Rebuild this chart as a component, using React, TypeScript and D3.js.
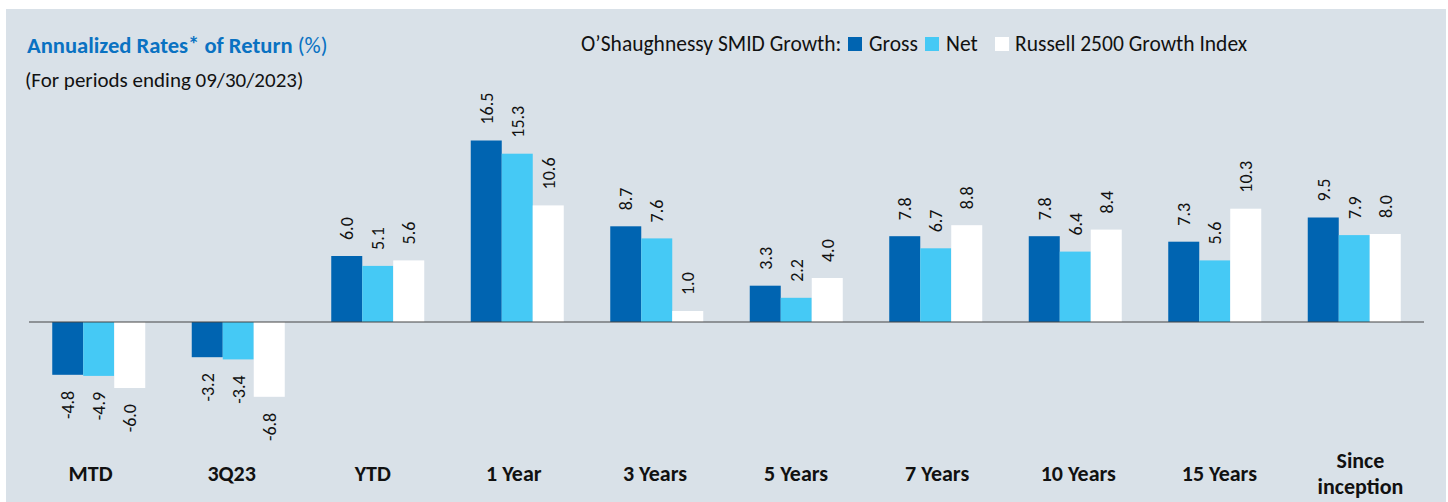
import React from "react";
import * as d3 from "d3";

const categories = ["MTD", "3Q23", "YTD", "1 Year", "3 Years", "5 Years", "7 Years", "10 Years", "15 Years", "Since inception"];
const gross = [-4.8, -3.2, 6.0, 16.5, 8.7, 3.3, 7.8, 7.8, 7.3, 9.5];
const net = [-4.9, -3.4, 5.1, 15.3, 7.6, 2.2, 6.7, 6.4, 5.6, 7.9];
const russell = [-6.0, -6.8, 5.6, 10.6, 1.0, 4.0, 8.8, 8.4, 10.3, 8.0];
const seriesNames = ["Gross", "Net", "Russell 2500 Growth Index"];
const seriesColors = ["#0064B1", "#45C9F5", "#FFFFFF"];

const FONT = "Carlito, Calibri, Lato, 'Open Sans', sans-serif";
const W = 1448;
const H = 502;

export default function App() {
  const series = [gross, net, russell];
  const x = d3.scaleBand<string>().domain(categories).range([29, 1424]).paddingInner(1 / 3).paddingOuter(1 / 6);
  const xLabel = d3.scaleBand<string>().domain(categories).range([20, 1431]);
  const xs = d3.scaleBand<string>().domain(seriesNames).range([0, x.bandwidth()]);
  const y = d3.scaleLinear().domain([-8, 18]).range([410, 124]);
  const gap = 16;

  return (
    <svg width={W} height={H} style={{ position: "absolute", left: 0, top: 0, fontFamily: FONT }}>
      <rect x={0} y={0} width={W} height={H} fill="#ffffff" />
      <rect x={6} y={9} width={1440} height={493} fill="#D9E1E8" />
      <text x={27} y={53} fill="#0A72C2" fontSize={22.6} fontWeight="bold">
        Annualized Rates<tspan dy={-1}>*</tspan><tspan dy={1}> of Return </tspan>
        <tspan fontWeight="normal">(%)</tspan>
      </text>
      <text x={25} y={87} fill="#111" fontSize={21}>(For periods ending 09/30/2023)</text>

      <g fontSize={21.5} fill="#111">
        <text x={581} y={51}>O’Shaughnessy SMID Growth:</text>
        <rect x={848} y={37} width={14} height={14} fill={seriesColors[0]} />
        <text x={869} y={51}>Gross</text>
        <rect x={925} y={37} width={14} height={14} fill={seriesColors[1]} />
        <text x={946} y={51}>Net</text>
        <rect x={995} y={37} width={14} height={14} fill={seriesColors[2]} />
        <text x={1015} y={51}>Russell 2500 Growth Index</text>
      </g>

      {categories.map((c, i) => (
        <g key={c} transform={`translate(${x(c)},0)`}>
          {series.map((s, j) => {
            const v = s[i];
            const bx = xs(seriesNames[j])!;
            const y0 = y(0);
            const yv = y(v);
            const cx = bx + xs.bandwidth() / 2;
            const ly = v >= 0 ? yv - gap : yv + gap;
            return (
              <g key={j}>
                <rect
                  x={bx}
                  y={Math.min(y0, yv)}
                  width={xs.bandwidth()}
                  height={Math.abs(yv - y0)}
                  fill={seriesColors[j]}
                />
                <text
                  transform={`translate(${cx},${ly}) rotate(-90)`}
                  textAnchor={v >= 0 ? "start" : "end"}
                  dy="0.35em"
                  fontSize={18}
                  fill="#111"
                >
                  {v.toFixed(1)}
                </text>
              </g>
            );
          })}
        </g>
      ))}

      <line x1={29} x2={1424} y1={y(0)} y2={y(0)} stroke="#444" strokeWidth={1.2} />

      {categories.map((c) => {
        const cx = xLabel(c)! + xLabel.bandwidth() / 2;
        const words = c === "Since inception" ? ["Since", "inception"] : [c];
        return (
          <text key={c} textAnchor="middle" fontSize={22} fontWeight="bold" fill="#111">
            {words.length === 1 ? (
              <tspan x={cx} y={481}>{words[0]}</tspan>
            ) : (
              words.map((w, k) => (
                <tspan key={k} x={cx} y={468 + k * 26}>{w}</tspan>
              ))
            )}
          </text>
        );
      })}
    </svg>
  );
}
